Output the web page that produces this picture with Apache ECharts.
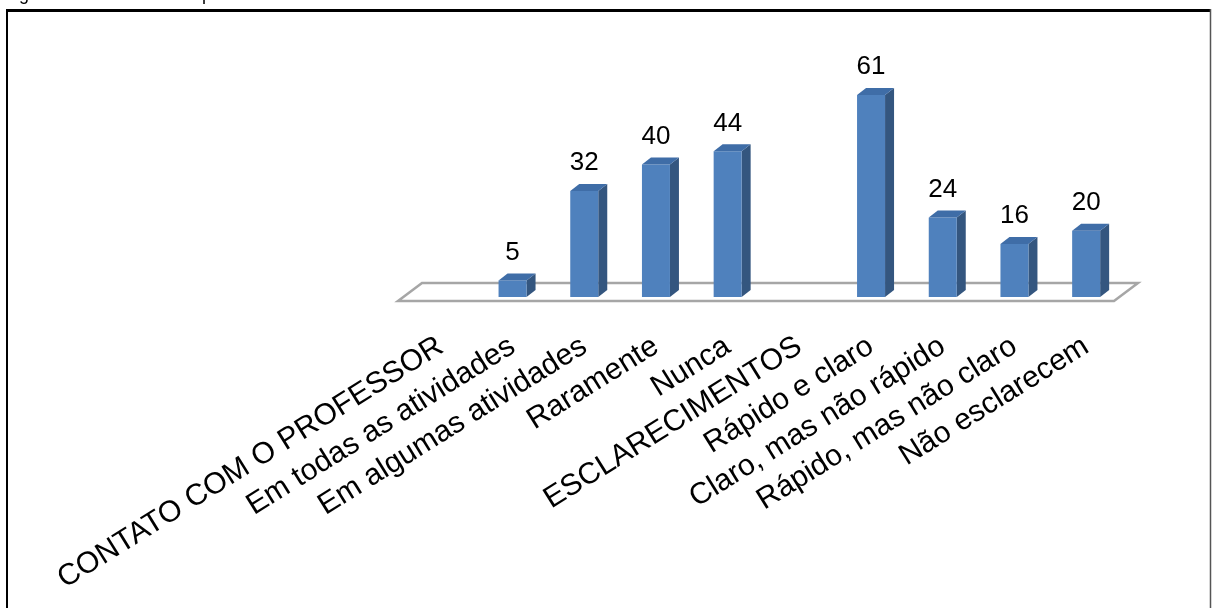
<!DOCTYPE html>
<html>
<head>
<meta charset="utf-8">
<title>Contato e esclarecimentos</title>
<script src="https://cdn.jsdelivr.net/npm/echarts@6/dist/echarts.min.js"></script>
<style>
  html, body { margin: 0; padding: 0; background: #ffffff; }
  #chart { width: 1212px; height: 608px; }
</style>
</head>
<body>
<div id="chart"></div>
<script>
// Categories (group headings have no bar of their own)
const categories = [
  'CONTATO COM O PROFESSOR',
  'Em todas as atividades',
  'Em algumas atividades',
  'Raramente',
  'Nunca',
  'ESCLARECIMENTOS',
  'Rápido e claro',
  'Claro, mas não rápido',
  'Rápido, mas não claro',
  'Não esclarecem'
];

// Number of answers per category (null = heading row)
const counts = [null, 5, 32, 40, 44, null, 61, 24, 16, 20];

const captionText = 'Figura 10 – Contato dos pais com docentes e esclarecimento de dúvidas';

const FONT = '"Liberation Sans", Arial, sans-serif';

// 3D look of the columns
const BAR_W = 28, DEPTH_X = 9, DEPTH_Y = 7;
const FRONT = '#4F81BD', SIDE = '#34567F', TOP = '#3F6DA7';

const barData = [];
counts.forEach(function (v, i) {
  if (v !== null) barData.push([i, v]);
});

function renderBar(params, api) {
  const i = api.value(0), v = api.value(1);
  const top = api.coord([i, v]);
  const base = api.coord([i, 0]);
  const x0 = top[0] - BAR_W / 2, x1 = top[0] + BAR_W / 2;
  const yt = top[1], yb = base[1];
  return {
    type: 'group',
    children: [
      { type: 'polygon', shape: { points: [[x1, yt], [x1 + DEPTH_X, yt - DEPTH_Y], [x1 + DEPTH_X, yb - DEPTH_Y], [x1, yb]] },
        style: { fill: SIDE } },
      { type: 'rect', shape: { x: x0, y: yt, width: BAR_W, height: yb - yt },
        style: { fill: FRONT } },
      { type: 'polygon', shape: { points: [[x0, yt], [x1, yt], [x1 + DEPTH_X, yt - DEPTH_Y], [x0 + DEPTH_X, yt - DEPTH_Y]] },
        style: { fill: TOP } },
      { type: 'text', x: top[0], y: yt - DEPTH_Y - 8,
        style: { text: String(v), fill: '#000', font: '26px ' + FONT, align: 'center', verticalAlign: 'bottom' } }
    ]
  };
}

// Floor plate under the columns
function renderFloor(params, api) {
  const first = api.coord([0, 0]);
  const last = api.coord([categories.length - 1, 0]);
  const band = api.size([1, 0])[0];
  const yFront = first[1] + 4, yBack = first[1] - 14;
  const xl = first[0] - band / 2 - 7, xr = last[0] + band / 2 - 8;
  return {
    type: 'polygon',
    shape: { points: [[xl, yFront], [xr, yFront], [xr + 24, yBack], [xl + 24, yBack]] },
    style: { fill: '#ffffff', stroke: '#A6A6A6', lineWidth: 2.5 }
  };
}

const chart = echarts.init(document.getElementById('chart'), null, { renderer: 'canvas' });

chart.setOption({
  backgroundColor: '#ffffff',
  animation: false,
  grid: { left: 405, right: 90, top: 65.3, bottom: 311, containLabel: false, outerBoundsMode: 'none' },
  xAxis: {
    type: 'category',
    data: categories,
    boundaryGap: true,
    axisLine: { show: false },
    axisTick: { show: false },
    splitLine: { show: false },
    axisLabel: {
      interval: 0, rotate: 32, margin: 47,
      color: '#000', fontSize: 30, fontFamily: FONT
    }
  },
  yAxis: {
    type: 'value', min: 0, max: 70,
    show: false,
    splitLine: { show: false }
  },
  graphic: [
    { type: 'text', x: 4, y: -5, z: 10,
      style: { text: captionText, fill: '#000', font: '18px ' + FONT, verticalAlign: 'middle' } },
    { type: 'line', shape: { x1: 6, y1: 10.5, x2: 1210, y2: 10.5 }, style: { stroke: '#000', lineWidth: 3 } },
    { type: 'line', shape: { x1: 7, y1: 9, x2: 7, y2: 608 }, style: { stroke: '#000', lineWidth: 2 } },
    { type: 'line', shape: { x1: 1210.5, y1: 9, x2: 1210.5, y2: 608 }, style: { stroke: '#555', lineWidth: 1.5 } }
  ],
  series: [
    { type: 'custom', renderItem: renderFloor, data: [[0, 0]], z: 1, silent: true },
    { type: 'custom', renderItem: renderBar, data: barData, z: 2, silent: true }
  ]
});
</script>
</body>
</html>
